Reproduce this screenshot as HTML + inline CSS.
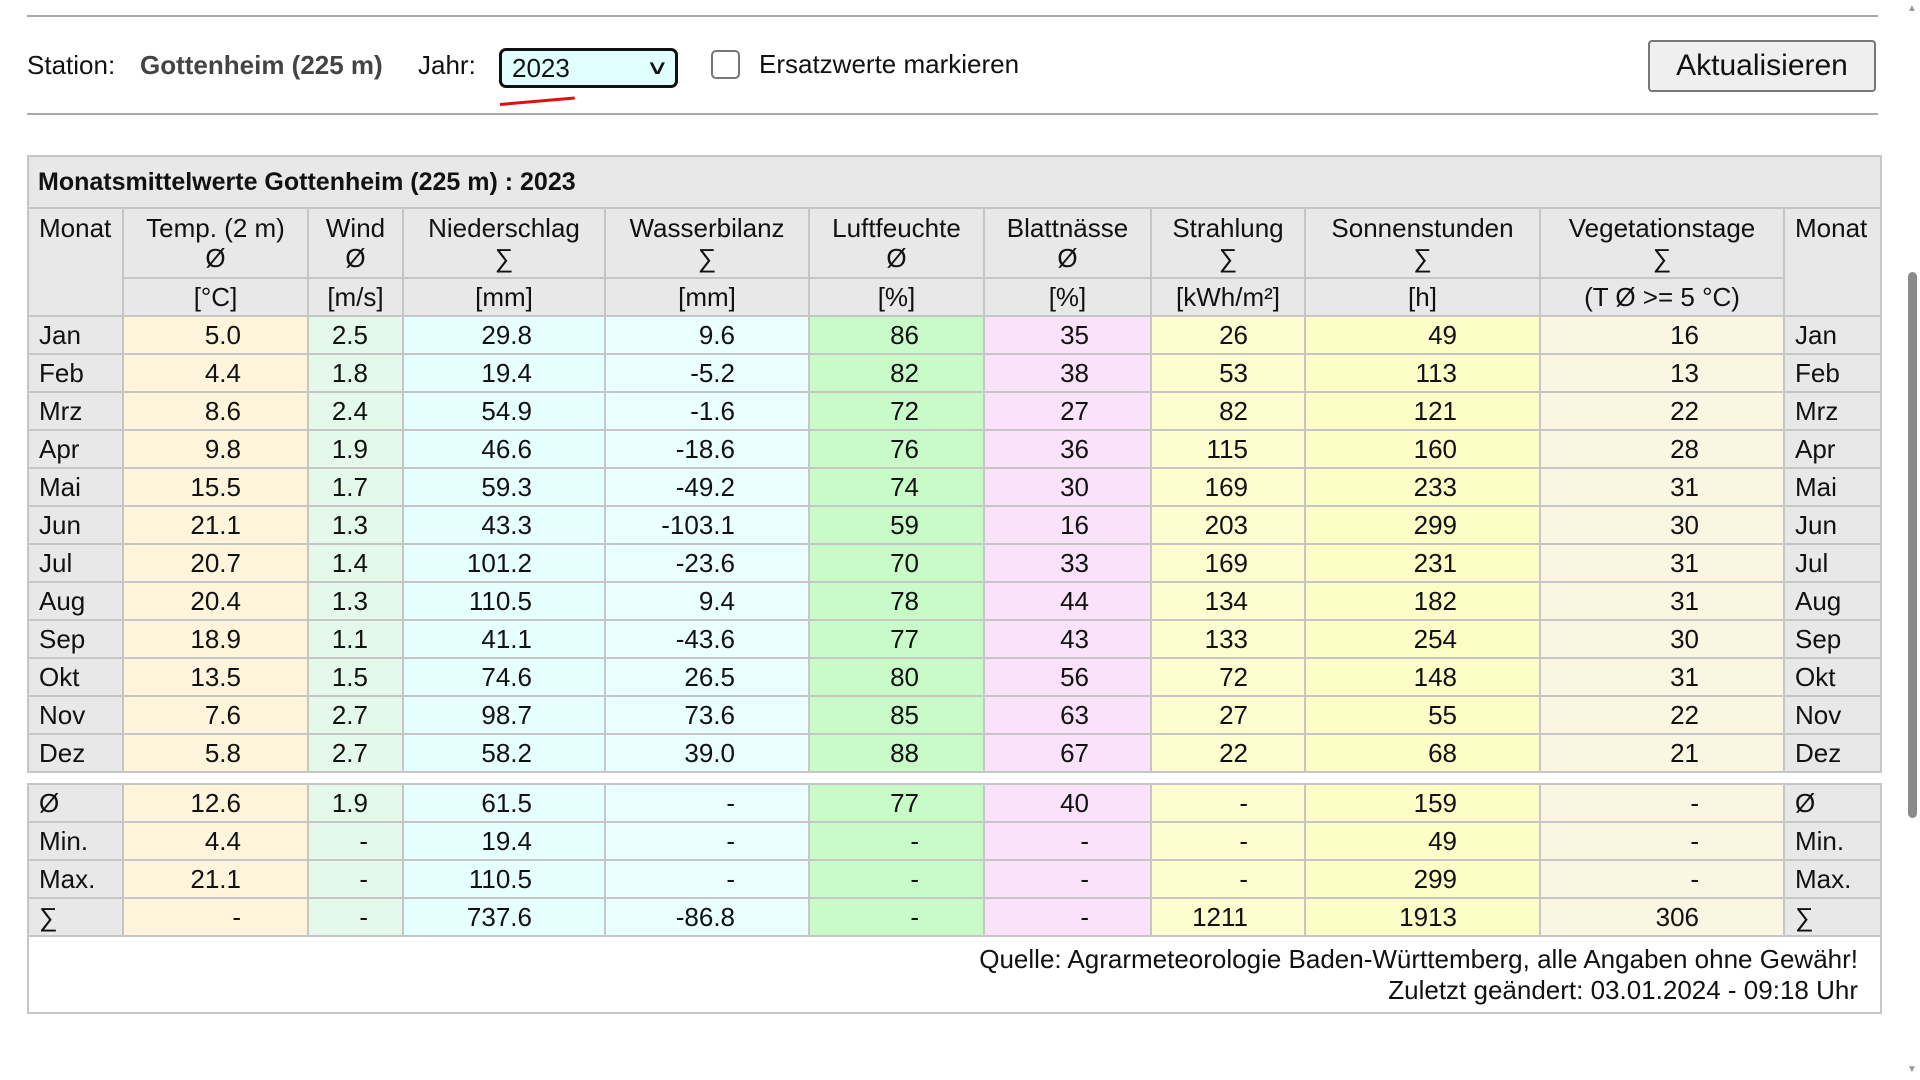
<!DOCTYPE html>
<html><head><meta charset="utf-8">
<style>
html,body{margin:0;padding:0;background:#fff;width:1920px;height:1080px;overflow:hidden;font-family:"Liberation Sans",Arial,sans-serif;color:#111;}
.hr{position:absolute;left:27px;width:1851px;height:2px;background:#a8a8a8;}
.abs{position:absolute;white-space:nowrap;}
table{position:absolute;left:27px;top:155px;border-collapse:collapse;table-layout:fixed;font-size:26px;}
td,th{border:2px solid #c6c6c6;height:36px;padding:0;font-weight:normal;line-height:30px;}
.t{background:#e8e8e8;font-weight:bold;text-align:left;padding-left:9px;height:50px;font-size:25px;}
.h{background:#e8e8e8;text-align:center;vertical-align:top;padding-top:4px;}
.u{padding-top:0;vertical-align:middle;}
.m{background:#e8e8e8;text-align:left;padding-left:10px;}
.c1{background:#fff4dc;text-align:right;padding-right:66px}
.c2{background:#e4f9ea;text-align:right;padding-right:34px}
.c3{background:#e6ffff;text-align:right;padding-right:72px}
.c4{background:#eaffff;text-align:right;padding-right:73px}
.c5{background:#c8fbc8;text-align:right;padding-right:64px}
.c6{background:#fbe2fb;text-align:right;padding-right:61px}
.c7{background:#fdfdcf;text-align:right;padding-right:56px}
.c8{background:#fdfdc8;text-align:right;padding-right:82px}
.c9{background:#faf6e2;text-align:right;padding-right:84px}
.gap td{height:10px;border-left:none;border-right:none;background:#fff;line-height:8px}
.foot{background:#fff;text-align:right;padding-right:22px;line-height:31px;height:75px;}
</style></head><body>
<div class="hr" style="top:15px"></div>
<div class="abs" style="left:27px;top:50px;font-size:26px;">Station:</div>
<div class="abs" style="left:140px;top:50px;font-size:26px;font-weight:bold;color:#444;">Gottenheim (225 m)</div>
<div class="abs" style="left:418px;top:50px;font-size:26px;">Jahr:</div>
<div class="abs" style="left:499px;top:48px;height:34px;border:3px solid #111;border-radius:7px;background:#e0ffff;font-size:26px;line-height:34px;padding-left:10px;width:163px;">2023<span style="position:absolute;right:10px;top:0px;font-size:20px;transform:scaleX(1.6);">&#8744;</span></div>
<div class="abs" style="left:500px;top:103px;width:75px;height:3px;background:#e01010;transform:rotate(-5deg);transform-origin:left;"></div>
<div class="abs" style="left:711px;top:50px;width:29px;height:29px;border:2px solid #777;border-radius:5px;box-sizing:border-box;"></div>
<div class="abs" style="left:759px;top:49px;font-size:26px;">Ersatzwerte markieren</div>
<div class="abs" style="left:1648px;top:40px;width:228px;height:52px;border:2px solid #777;border-radius:4px;background:#efefef;box-sizing:border-box;font-size:30px;line-height:48px;text-align:center;">Aktualisieren</div>
<div class="hr" style="top:113px"></div>

<table>
<colgroup><col style="width:95px"><col style="width:185px"><col style="width:95px"><col style="width:202px"><col style="width:204px"><col style="width:175px"><col style="width:167px"><col style="width:154px"><col style="width:235px"><col style="width:244px"><col style="width:97px"></colgroup>
<tr><td colspan="11" class="t">Monatsmittelwerte Gottenheim (225 m) : 2023</td></tr>
<tr style="height:70px"><td rowspan="2" class="h m" style="vertical-align:top">Monat</td>
<td class="h">Temp. (2 m)<br>Ø</td><td class="h">Wind<br>Ø</td><td class="h">Niederschlag<br>∑</td><td class="h">Wasserbilanz<br>∑</td><td class="h">Luftfeuchte<br>Ø</td><td class="h">Blattnässe<br>Ø</td><td class="h">Strahlung<br>∑</td><td class="h">Sonnenstunden<br>∑</td><td class="h">Vegetationstage<br>∑</td>
<td rowspan="2" class="h m" style="vertical-align:top">Monat</td></tr>
<tr><td class="h u">[°C]</td><td class="h u">[m/s]</td><td class="h u">[mm]</td><td class="h u">[mm]</td><td class="h u">[%]</td><td class="h u">[%]</td><td class="h u">[kWh/m²]</td><td class="h u">[h]</td><td class="h u">(T Ø &gt;= 5 °C)</td></tr>
<tr><td class="m">Jan</td><td class="c1">5.0</td><td class="c2">2.5</td><td class="c3">29.8</td><td class="c4">9.6</td><td class="c5">86</td><td class="c6">35</td><td class="c7">26</td><td class="c8">49</td><td class="c9">16</td><td class="m">Jan</td></tr>
<tr><td class="m">Feb</td><td class="c1">4.4</td><td class="c2">1.8</td><td class="c3">19.4</td><td class="c4">-5.2</td><td class="c5">82</td><td class="c6">38</td><td class="c7">53</td><td class="c8">113</td><td class="c9">13</td><td class="m">Feb</td></tr>
<tr><td class="m">Mrz</td><td class="c1">8.6</td><td class="c2">2.4</td><td class="c3">54.9</td><td class="c4">-1.6</td><td class="c5">72</td><td class="c6">27</td><td class="c7">82</td><td class="c8">121</td><td class="c9">22</td><td class="m">Mrz</td></tr>
<tr><td class="m">Apr</td><td class="c1">9.8</td><td class="c2">1.9</td><td class="c3">46.6</td><td class="c4">-18.6</td><td class="c5">76</td><td class="c6">36</td><td class="c7">115</td><td class="c8">160</td><td class="c9">28</td><td class="m">Apr</td></tr>
<tr><td class="m">Mai</td><td class="c1">15.5</td><td class="c2">1.7</td><td class="c3">59.3</td><td class="c4">-49.2</td><td class="c5">74</td><td class="c6">30</td><td class="c7">169</td><td class="c8">233</td><td class="c9">31</td><td class="m">Mai</td></tr>
<tr><td class="m">Jun</td><td class="c1">21.1</td><td class="c2">1.3</td><td class="c3">43.3</td><td class="c4">-103.1</td><td class="c5">59</td><td class="c6">16</td><td class="c7">203</td><td class="c8">299</td><td class="c9">30</td><td class="m">Jun</td></tr>
<tr><td class="m">Jul</td><td class="c1">20.7</td><td class="c2">1.4</td><td class="c3">101.2</td><td class="c4">-23.6</td><td class="c5">70</td><td class="c6">33</td><td class="c7">169</td><td class="c8">231</td><td class="c9">31</td><td class="m">Jul</td></tr>
<tr><td class="m">Aug</td><td class="c1">20.4</td><td class="c2">1.3</td><td class="c3">110.5</td><td class="c4">9.4</td><td class="c5">78</td><td class="c6">44</td><td class="c7">134</td><td class="c8">182</td><td class="c9">31</td><td class="m">Aug</td></tr>
<tr><td class="m">Sep</td><td class="c1">18.9</td><td class="c2">1.1</td><td class="c3">41.1</td><td class="c4">-43.6</td><td class="c5">77</td><td class="c6">43</td><td class="c7">133</td><td class="c8">254</td><td class="c9">30</td><td class="m">Sep</td></tr>
<tr><td class="m">Okt</td><td class="c1">13.5</td><td class="c2">1.5</td><td class="c3">74.6</td><td class="c4">26.5</td><td class="c5">80</td><td class="c6">56</td><td class="c7">72</td><td class="c8">148</td><td class="c9">31</td><td class="m">Okt</td></tr>
<tr><td class="m">Nov</td><td class="c1">7.6</td><td class="c2">2.7</td><td class="c3">98.7</td><td class="c4">73.6</td><td class="c5">85</td><td class="c6">63</td><td class="c7">27</td><td class="c8">55</td><td class="c9">22</td><td class="m">Nov</td></tr>
<tr><td class="m">Dez</td><td class="c1">5.8</td><td class="c2">2.7</td><td class="c3">58.2</td><td class="c4">39.0</td><td class="c5">88</td><td class="c6">67</td><td class="c7">22</td><td class="c8">68</td><td class="c9">21</td><td class="m">Dez</td></tr>
<tr class="gap"><td colspan="11"></td></tr>
<tr><td class="m">Ø</td><td class="c1">12.6</td><td class="c2">1.9</td><td class="c3">61.5</td><td class="c4">-</td><td class="c5">77</td><td class="c6">40</td><td class="c7">-</td><td class="c8">159</td><td class="c9">-</td><td class="m">Ø</td></tr>
<tr><td class="m">Min.</td><td class="c1">4.4</td><td class="c2">-</td><td class="c3">19.4</td><td class="c4">-</td><td class="c5">-</td><td class="c6">-</td><td class="c7">-</td><td class="c8">49</td><td class="c9">-</td><td class="m">Min.</td></tr>
<tr><td class="m">Max.</td><td class="c1">21.1</td><td class="c2">-</td><td class="c3">110.5</td><td class="c4">-</td><td class="c5">-</td><td class="c6">-</td><td class="c7">-</td><td class="c8">299</td><td class="c9">-</td><td class="m">Max.</td></tr>
<tr><td class="m">∑</td><td class="c1">-</td><td class="c2">-</td><td class="c3">737.6</td><td class="c4">-86.8</td><td class="c5">-</td><td class="c6">-</td><td class="c7">1211</td><td class="c8">1913</td><td class="c9">306</td><td class="m">∑</td></tr>
<tr><td colspan="11" class="foot">Quelle: Agrarmeteorologie Baden-Württemberg, alle Angaben ohne Gewähr!<br>Zuletzt geändert: 03.01.2024 - 09:18 Uhr</td></tr>
</table>

<div class="abs" style="left:1903px;top:0;width:17px;height:1080px;background:#fff;"></div>
<div class="abs" style="left:1907px;top:3px;font-size:10px;color:#999;">▲</div>
<div class="abs" style="left:1907px;top:1064px;font-size:10px;color:#999;">▼</div>
<div class="abs" style="left:1908px;top:272px;width:9px;height:546px;background:#8a8a8a;border-radius:5px;"></div>
</body></html>
